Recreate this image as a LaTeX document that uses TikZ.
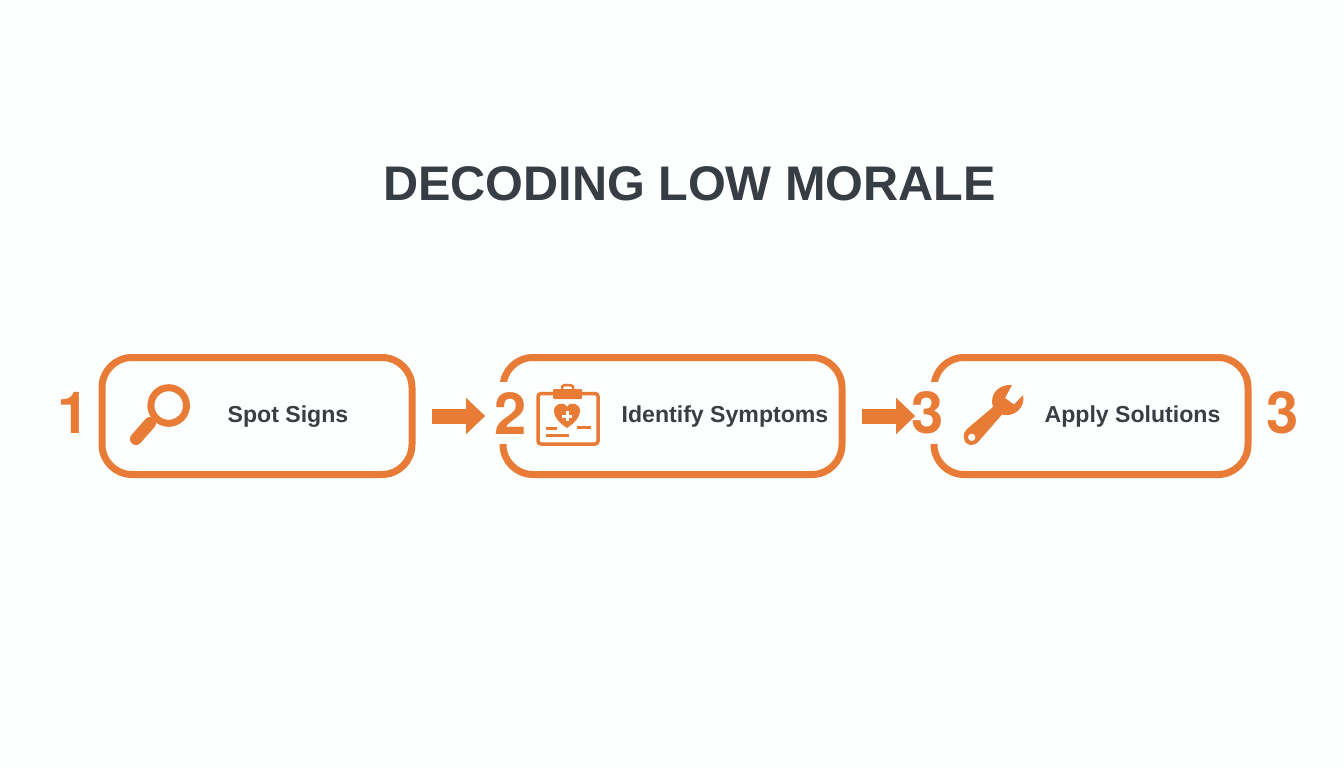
\documentclass[tikz,border=0pt]{standalone}
\usepackage{fontspec}
\setmainfont{Liberation Sans}
\newfontfamily\numfont{TeX Gyre Heros}
\usetikzlibrary{arrows.meta,positioning}
\definecolor{pagebg}{HTML}{FDFEFE}
\definecolor{morange}{HTML}{E87B36}
\definecolor{mdark}{HTML}{3A3E42}
\definecolor{mtitle}{HTML}{363D44}
\tikzset{
  stepbox/.style={draw=morange,line width=7pt,rounded corners=30pt,minimum height=117pt,inner sep=0pt},
  numlabel/.style={text=morange,font=\fontsize{58}{58}\selectfont\numfont\bfseries,inner sep=0pt},
  gapnum/.style={numlabel,fill=pagebg,minimum height=62pt},
  steptext/.style={text=mdark,font=\fontsize{23.1}{23.1}\selectfont\bfseries,inner sep=0pt},
  flowarrow/.style={draw=morange,line width=15pt,-{Triangle[length=19pt,width=35pt]}},
  iconline/.style={draw=morange,line width=3.5pt}
}
\begin{document}
\begin{tikzpicture}[x=1pt,y=-1pt]
   \fill[pagebg] (0,0) rectangle (1344,768);
   \useasboundingbox (0,0) rectangle (1344,768);
   \node[text=mtitle,font=\fontsize{48.6}{48.6}\selectfont\bfseries,inner sep=0pt] (title) at (689.5,184) {DECODING LOW MORALE};
   \node[stepbox,minimum width=310pt] (box_1) at (257,416) {};
   \node[stepbox,minimum width=339pt] (box_2) at (672.5,416) {};
   \node[stepbox,minimum width=314pt] (box_3) at (1091,416) {};
   \node[numlabel] (num_1) at (73.5,413) {1};
   \node[gapnum] (num_2) at (510.5,413) {2};
   \node[gapnum] (num_3) at (927.5,413) {3};
   \node[numlabel] (num_4) at (1283,413) {3};
   \node[steptext] (text_1) at (288,417) {Spot Signs};
   \node[steptext] (text_2) at (725,417) {Identify Symptoms};
   \node[steptext] (text_3) at (1132.5,417) {Apply Solutions};
   \draw[flowarrow,shorten <=16pt,shorten >=9pt] (box_1.east) -- (num_2.west |- box_1.east);
   \draw[flowarrow,shorten <=16pt,shorten >=-4pt] (box_2.east) -- (num_3.west |- box_2.east);
   % magnifier
   \draw[morange,line width=7pt] (168.7,405.5) circle (17.8pt);
   \draw[morange,line width=5pt] (156,418) -- (150,424);
   \draw[morange,line width=12pt,line cap=round] (150,423) -- (136,439);
   % clipboard
   \draw[iconline,rounded corners=3pt] (554,393.5) -- (538,393.5) -- (538,444) -- (598,444) -- (598,393.5) -- (582,393.5);
   \fill[morange,rounded corners=1pt] (553,389) rectangle (582,399);
   \draw[morange,line width=2.5pt] (562,389) -- (562,386.5) .. controls (562,384.5) and (573,384.5) .. (573,386.5) -- (573,389);
   \fill[morange] (567,428) .. controls (560,423) and (554,418) .. (554,411) .. controls (554,403) and (564,401) .. (567,407) .. controls (570,401) and (580,403) .. (580,411) .. controls (580,418) and (574,423) .. (567,428) -- cycle;
   \draw[pagebg,line width=3pt] (562,416) -- (572,416) (567,411) -- (567,421);
   \draw[iconline,line width=3pt] (546,428) -- (557,428) (577,427) -- (591,427) (546,435) -- (569,435);
   % wrench
   \fill[morange] (1012,385) -- (1005,398) -- (1014,404.5) -- (1023,395)
      .. controls (1026,407) and (1014,418) .. (1002,414.5) -- (978,442)
      .. controls (973,447) and (965,446) .. (964,438) .. controls (963,434) and (965,431) .. (967,429)
      -- (993,407) .. controls (989,395) and (998,384) .. (1012,385) -- cycle;
   \fill[pagebg] (971.7,437.3) circle (3.7pt);
\end{tikzpicture}
\end{document}
